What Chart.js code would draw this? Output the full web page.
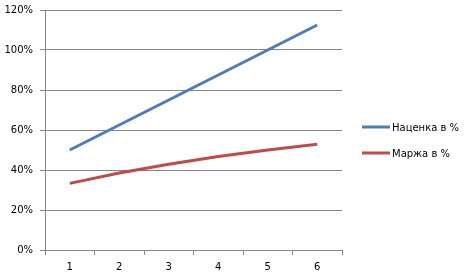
<!DOCTYPE html>
<html>
<head>
<meta charset="utf-8">
<script src="https://cdn.jsdelivr.net/npm/chart.js@4/dist/chart.umd.min.js"></script>
<style>
  html, body { margin: 0; padding: 0; background: #fff; }
  #wrap { width: 465px; height: 277px; }
</style>
</head>
<body>
<div id="wrap"><canvas id="grafica" width="465" height="277"></canvas></div>
<script>
// Datos del gráfico
const categorias = ["1", "2", "3", "4", "5", "6"];
const nacenka = [50, 62.5, 75, 87.5, 100, 112.5];   // Наценка в %
const marzha = [33.3, 38.5, 42.9, 46.7, 50, 52.9];  // Маржа в %
const etiquetas = ["Наценка в %", "Маржа в %"];
const colores = ["#4A7EBB", "#BE4B48"];

const fuente = "'DejaVu Sans', Verdana, sans-serif";
const gris = "#868686";

// Leyenda a la derecha, estilo Excel
const leyenda = {
    id: "leyenda",
    afterDraw(chart) {
        const ctx = chart.ctx;
        ctx.save();
        ctx.font = "10px " + fuente;
        ctx.textBaseline = "middle";
        chart.data.datasets.forEach(function (ds, i) {
            const y = 127 + i * 26;
            ctx.strokeStyle = ds.borderColor;
            ctx.lineWidth = 3;
            ctx.beginPath();
            ctx.moveTo(362, y);
            ctx.lineTo(390, y);
            ctx.stroke();
            ctx.fillStyle = "#000";
            ctx.fillText(ds.label, 392, y + 1);
        });
        ctx.restore();
    }
};

new Chart(document.getElementById("grafica"), {
    type: "line",
    data: {
        labels: categorias,
        datasets: [
            { label: etiquetas[0], data: nacenka, borderColor: colores[0], backgroundColor: colores[0] },
            { label: etiquetas[1], data: marzha, borderColor: colores[1], backgroundColor: colores[1] }
        ]
    },
    options: {
        responsive: false,
        animation: false,
        devicePixelRatio: 1,
        layout: { padding: { left: 0, right: 123, top: 10, bottom: 0 } },
        elements: {
            line: { borderWidth: 3, tension: 0 },
            point: { radius: 0 }
        },
        plugins: {
            legend: { display: false },
            tooltip: { enabled: false }
        },
        scales: {
            x: {
                offset: true,
                grid: { display: true, offset: true, drawOnChartArea: false, drawTicks: true, tickLength: 5, color: gris },
                border: { display: true, color: gris },
                ticks: { color: "#000", font: { family: fuente, size: 10 }, padding: 6, maxRotation: 0 },
                afterFit: function (s) { s.height = 27; s.paddingLeft = 0; s.paddingRight = 0; }
            },
            y: {
                min: 0,
                max: 120,
                ticks: {
                    stepSize: 20,
                    color: "#000",
                    font: { family: fuente, size: 10 },
                    padding: 7,
                    callback: function (v) { return v + "%"; }
                },
                grid: { color: gris, drawTicks: true, tickLength: 5 },
                border: { display: true, color: gris },
                afterFit: function (s) { s.width = 45; s.paddingTop = 0; s.paddingBottom = 0; }
            }
        }
    },
    plugins: [leyenda]
});
</script>
</body>
</html>
